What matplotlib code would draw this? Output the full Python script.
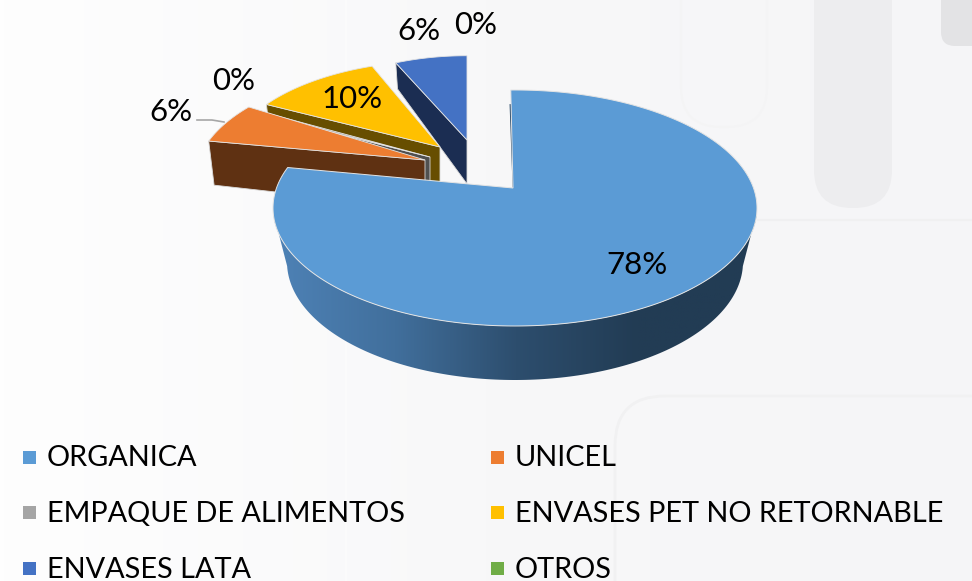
import numpy as np
import matplotlib
matplotlib.use("Agg")
import matplotlib.pyplot as plt
from matplotlib.colors import LinearSegmentedColormap
from matplotlib.patches import FancyBboxPatch, Polygon, Rectangle

CATEGORIES = ["ORGANICA", "UNICEL", "EMPAQUE DE ALIMENTOS",
              "ENVASES PET NO RETORNABLE", "ENVASES LATA", "OTROS"]
SHARES = [78, 5.6, 0.4, 10, 6, 0]

TOP_COLORS = ["#5B9BD5", "#ED7D31", "#A5A5A5", "#FFC000", "#4472C4", "#70AD47"]
SIDE_COLORS = ["#2A4A68", "#5F3112", "#505050", "#674E00", "#1B2D52", "#3C5E26"]

# apex x, apex y, radius scale, angle shift, sweep stretch, x squeeze (perspective look)
LAYOUT = {
    0: (513, 188, 1.00, 0.0, 1.033, 1.0),
    1: (425, 160, 0.95, 9.0, 1.0, 1.0),
    2: (430, 157, 0.90, 5.0, 1.0, 1.0),
    3: (440, 147, 0.88, 3.0, 1.0, 1.0),
    4: (467, 140, 0.86, 0.0, 1.0, 0.93),
}
LABEL_POS = [(637, 265), (171, 112), (234, 81), (352, 99), (419, 31), (476, 25)]

RX, RY, CY_OFF = 242, 118, 20


def rim(apex_x, apex_y, scale, angles, squeeze):
    t = np.radians(angles)
    x = apex_x + scale * squeeze * RX * np.sin(t)
    y = apex_y + scale * (CY_OFF - RY * np.cos(t))
    return x, y


def draw_background(ax):
    shade = np.linspace(0.0, 1.0, 256).reshape(1, -1)
    cmap = LinearSegmentedColormap.from_list("bg", ["#FEFEFE", "#F8F8F9", "#F5F5F7"])
    ax.imshow(shade, extent=(0, 972, 581, 0), aspect="auto", cmap=cmap, zorder=0)
    ax.add_patch(FancyBboxPatch((814, -60), 78, 268, boxstyle="round,pad=0,rounding_size=38",
                                fc="#EDEDEF", ec="none", zorder=1))
    ax.add_patch(FancyBboxPatch((941, -40), 60, 86, boxstyle="round,pad=0,rounding_size=14",
                                fc="#E3E3E5", ec="none", zorder=1))
    ax.add_patch(FancyBboxPatch((681, -80), 86, 207, boxstyle="round,pad=0,rounding_size=40",
                                fc="none", ec="#F4F4F5", lw=1.5, zorder=1))
    ax.add_patch(FancyBboxPatch((615, 396), 420, 260, boxstyle="round,pad=0,rounding_size=50",
                                fc="none", ec="#F1F1F2", lw=2, zorder=1))
    ax.plot([758, 972], [220, 220], color="#F0F0F1", lw=1.5, zorder=1)
    ax.plot([346, 346], [0, 581], color="#FBFBFB", lw=1.5, zorder=1)


def draw_small_wedge(ax, idx, t0, t1):
    apex_x, apex_y, scale, shift, stretch, squeeze = LAYOUT[idx]
    angles = np.linspace(t0 * stretch + shift, t1 * stretch + shift, 40)
    x, y = rim(apex_x, apex_y, scale, angles, squeeze)
    depth = 11.7 + 0.23 * y[0]
    apex_depth = 11.7 + 0.23 * apex_y
    base = 3 + (5 - idx) * 0.1
    # side face on the radial edge that faces the viewer
    side = [(x[0], y[0]), (apex_x, apex_y), (apex_x, apex_y + apex_depth),
            (apex_x + (x[0] - apex_x) * 0.975, y[0] + depth)]
    ax.add_patch(Polygon(side, closed=True, fc=SIDE_COLORS[idx], ec="#D9D9D9", lw=0.6, zorder=base))
    top = np.column_stack([np.r_[apex_x, x], np.r_[apex_y, y]])
    ax.add_patch(Polygon(top, closed=True, fc=TOP_COLORS[idx], ec="#E4E4E4", lw=0.6, zorder=base + 0.05))


def draw_main_wedge(ax, t0, t1):
    apex_x, apex_y, scale, shift, stretch, squeeze = LAYOUT[0]
    cx, cy = apex_x + 2, apex_y + CY_OFF
    front = np.linspace(268, 92, 160)
    t = np.radians(front)
    top_x = cx + RX * np.sin(t)
    top_y = cy - RY * np.cos(t)
    bot_x = cx + 228 * np.sin(t[::-1])
    bot_y = cy + 54 - RY * np.cos(t[::-1])
    side = Polygon(np.column_stack([np.r_[top_x, bot_x], np.r_[top_y, bot_y]]), closed=True,
                   fc="none", ec="none", zorder=5)
    ax.add_patch(side)
    cmap = LinearSegmentedColormap.from_list("rim", ["#4E82B6", "#416F9C", "#2D4E6E", "#223C54", "#223C54"])
    im = ax.imshow(np.linspace(0, 1, 256).reshape(1, -1), extent=(274, 757, 400, 190),
                   aspect="auto", cmap=cmap, zorder=5)
    im.set_clip_path(side)

    ax.plot([510.5, 513.5], [105, 188], color=SIDE_COLORS[0], lw=1.3, zorder=5.5)

    angles = np.linspace(t0 * stretch + shift - 1, t1 * stretch + shift, 300)
    t = np.radians(angles)
    x = cx + RX * np.sin(t)
    y = cy - RY * np.cos(t)
    top = np.column_stack([np.r_[apex_x, x], np.r_[apex_y, y]])
    ax.add_patch(Polygon(top, closed=True, fc=TOP_COLORS[0], ec="#E4E4E4", lw=0.7, zorder=6))


def draw_labels(ax):
    for share, (x, y) in zip(SHARES, LABEL_POS):
        ax.text(x, y, f"{round(share)}%", ha="center", va="center", fontsize=22.5,
                color="black", zorder=8)
    ax.plot([197, 212, 224], [120, 120, 122], color="#A6A6A6", lw=1.2, zorder=7)


def draw_legend(ax):
    rows = [457, 512, 568]
    cols = [(23, 47), (491, 515)]
    for i, (name, color) in enumerate(zip(CATEGORIES, TOP_COLORS)):
        box_x, text_x = cols[i % 2]
        y = rows[i // 2]
        ax.add_patch(Rectangle((box_x, y - 6.5), 13, 13, fc=color, ec="none", zorder=8))
        ax.text(text_x, y + 1.5, name, ha="left", va="center", fontsize=20.8, color="black", zorder=8)


def main():
    plt.rcParams["font.family"] = ["Lato", "DejaVu Sans"]
    fig = plt.figure(figsize=(9.72, 5.81), dpi=100)
    ax = fig.add_axes([0, 0, 1, 1])
    draw_background(ax)

    edges = np.cumsum([0] + SHARES) * 3.6
    for idx in [4, 3, 2, 1]:
        draw_small_wedge(ax, idx, edges[idx], edges[idx + 1])
    draw_main_wedge(ax, edges[0], edges[1])
    draw_labels(ax)
    draw_legend(ax)

    ax.set_xlim(0, 972)
    ax.set_ylim(581, 0)
    ax.axis("off")
    fig.savefig("out.png", dpi=100)


if __name__ == "__main__":
    main()
